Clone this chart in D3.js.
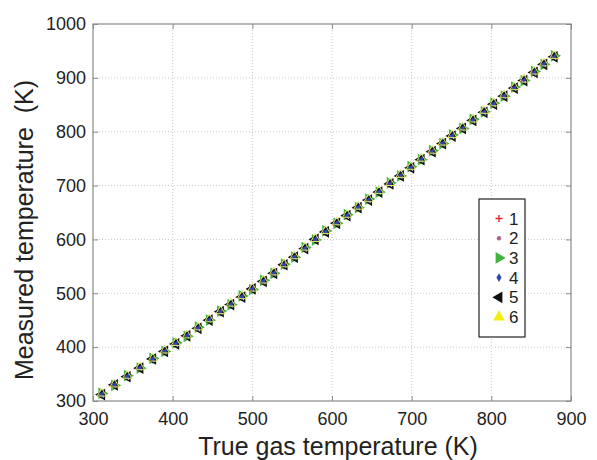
<!DOCTYPE html>
<html>
<head>
<meta charset="utf-8">
<script src="https://cdn.jsdelivr.net/npm/d3@7"></script>
<style>
  body { margin: 0; background: #fff; }
  svg text { font-family: "Liberation Sans", Arial, sans-serif; fill: #222; }
</style>
</head>
<body>
<div id="chart"></div>
<script>
// true gas temperature (K) - shared by all 6 runs
const trueTemp = [311,327,343,359,375,390,404,418,432,446,460,473,487,500,514,527,540,553,566,579,592,606,619,633,646,659,673,686,699,712,726,739,751,764,777,791,803,816,829,841,854,866,879];

// measured temperature (K) for each run
const meas1 = [313,330,346,362,378,393,407,421,436,451,466,480,494,508,523,538,553,568,584,600,615,631,645,660,674,689,704,719,734,749,764,779,793,807,822,838,852,867,882,896,911,926,940];
const meas2 = [312,331,345,363,377,394,406,422,435,452,465,481,493,509,522,539,552,569,583,601,614,632,644,661,673,690,703,720,733,750,763,780,792,808,821,839,851,868,881,897,910,927,939];
const meas3 = [314,329,347,361,379,392,408,420,437,450,467,479,495,507,524,537,554,567,585,599,616,630,646,659,675,688,705,718,735,748,765,778,794,806,823,837,853,866,883,895,912,925,941];
const meas4 = [313,331,346,362,377,393,407,422,436,451,465,480,494,509,523,538,552,568,584,601,615,631,645,661,674,689,704,720,734,750,764,780,793,808,822,838,853,867,882,897,911,926,941];
const meas5 = [312,330,345,361,378,392,406,421,435,450,466,479,493,508,522,537,553,567,583,600,614,630,644,659,673,688,703,718,733,748,763,778,792,806,821,836,851,866,881,895,910,925,939];
const meas6 = [314,331,347,363,379,394,408,422,437,452,467,481,495,509,524,539,554,569,585,601,616,632,646,661,675,690,705,720,735,750,765,780,794,808,823,839,853,868,883,897,912,927,941];

const seriesNames = ["1","2","3","4","5","6"];
const seriesVals = [meas1, meas2, meas3, meas4, meas5, meas6];
const seriesColors = ["#e5262e","#b0658f","#3fb43c","#2f45b0","#111111","#f2ee10"];

const xTicks = [300,400,500,600,700,800,900];
const yTicks = [300,400,500,600,700,800,900,1000];

const W = 597, H = 460;
const margin = {top: 24, right: 26, bottom: 59, left: 93};
const width = W - margin.left - margin.right;
const height = H - margin.top - margin.bottom;

const svg = d3.select("#chart").append("svg")
    .attr("width", W)
    .attr("height", H);

const g = svg.append("g")
    .attr("transform", "translate(" + margin.left + "," + margin.top + ")");

const x = d3.scaleLinear().domain([300, 900]).range([0, width]);
const y = d3.scaleLinear().domain([300, 1000]).range([height, 0]);

// dotted grid
g.append("g").selectAll("line")
  .data(xTicks.slice(1, -1))
  .enter().append("line")
    .attr("x1", d => x(d)).attr("x2", d => x(d))
    .attr("y1", 0).attr("y2", height)
    .attr("stroke", "#c8c8c8")
    .attr("stroke-dasharray", "1,2");

g.append("g").selectAll("line")
  .data(yTicks.slice(1, -1))
  .enter().append("line")
    .attr("y1", d => y(d)).attr("y2", d => y(d))
    .attr("x1", 0).attr("x2", width)
    .attr("stroke", "#c8c8c8")
    .attr("stroke-dasharray", "1,2");

// axes, matlab style: inward ticks on all four sides
function styleAxis(sel) {
  sel.select(".domain").remove();
  sel.selectAll("line").attr("stroke", "#8a8a8a");
  sel.selectAll("text").style("font-size", "18px").attr("fill", "#222");
}

const fmt = d3.format("d");

g.append("g")
    .attr("transform", "translate(0," + height + ")")
    .call(d3.axisBottom(x).tickValues(xTicks).tickFormat(fmt).tickSize(-5).tickPadding(11))
    .call(styleAxis);

g.append("g")
    .call(d3.axisLeft(y).tickValues(yTicks).tickFormat(fmt).tickSize(-5).tickPadding(7))
    .call(styleAxis);

g.append("g")
    .call(d3.axisTop(x).tickValues(xTicks).tickSize(-5).tickFormat(""))
    .call(styleAxis);

g.append("g")
    .attr("transform", "translate(" + width + ",0)")
    .call(d3.axisRight(y).tickValues(yTicks).tickSize(-5).tickFormat(""))
    .call(styleAxis);

g.append("rect")
    .attr("width", width)
    .attr("height", height)
    .attr("fill", "none")
    .attr("stroke", "#8a8a8a")
    .attr("stroke-width", 1.2);

// marker shapes
const tri = d3.symbol().type(d3.symbolTriangle).size(36)();
function marker(sel, i, legend) {
  const c = seriesColors[i];
  if (i === 0) {
    sel.append("path").attr("d", "M-3.5,0H3.5M0,-3.5V3.5")
      .attr("stroke", c).attr("stroke-width", 1.4).attr("fill", "none");
  } else if (i === 1) {
    sel.append("circle").attr("r", 2.2).attr("fill", c);
  } else if (i === 3) {
    sel.append("path").attr("d", d3.symbol().type(d3.symbolDiamond).size(22)())
      .attr("fill", c);
  } else {
    const rot = i === 2 ? 90 : (i === 4 ? -90 : 0);
    sel.append("path").attr("d", tri)
      .attr("transform", "rotate(" + rot + ")")
      .attr("fill", legend ? c : "none")
      .attr("stroke", (!legend && i === 5) ? "#e4e070" : c)
      .attr("stroke-width", legend ? 1.5 : (i === 5 ? 1 : 1.5));
  }
}

// data points
seriesVals.forEach(function (vals, i) {
  const pts = g.append("g").selectAll("g")
    .data(vals)
    .enter().append("g")
      .attr("transform", (d, j) => "translate(" + x(trueTemp[j]) + "," + y(d) + ")");
  pts.each(function () { marker(d3.select(this), i, false); });
});

// legend
const leg = svg.append("g").attr("transform", "translate(479,199)");
leg.append("rect")
    .attr("width", 46).attr("height", 138)
    .attr("fill", "#fff")
    .attr("stroke", "#222").attr("stroke-width", 1.2);

seriesNames.forEach(function (name, i) {
  const row = leg.append("g").attr("transform", "translate(0," + (19.5 + i * 19.7) + ")");
  const m = row.append("g").attr("transform", "translate(20,0)");
  marker(m, i, true);
  row.append("text")
    .attr("x", 30).attr("dy", "0.36em")
    .style("font-size", "17px")
    .text(name);
});

// axis titles
svg.append("text")
    .attr("x", 338).attr("y", 455)
    .style("text-anchor", "middle")
    .style("font-size", "25px")
    .text("True gas temperature (K)");

svg.append("text")
    .attr("transform", "translate(33,230) rotate(-90)")
    .style("text-anchor", "middle")
    .style("font-size", "25px")
    .style("white-space", "pre")
    .text("Measured temperature  (K)");
</script>
</body>
</html>
